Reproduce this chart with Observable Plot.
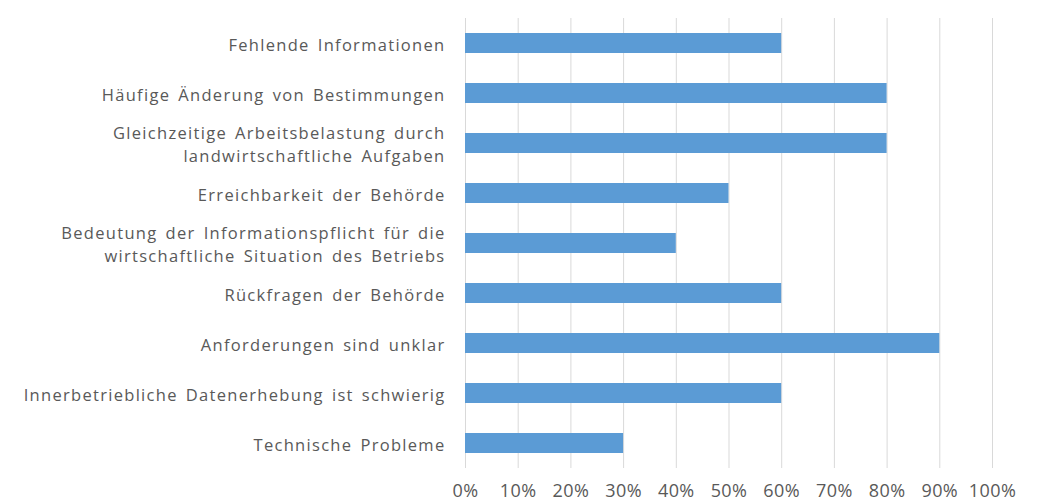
<!DOCTYPE html>
<html>
<head>
<meta charset="utf-8">
<script src="https://cdn.jsdelivr.net/npm/d3@7"></script>
<script src="https://cdn.jsdelivr.net/npm/@observablehq/plot@0.6"></script>
<style>
  html, body { margin: 0; padding: 0; background: #fff; }
  g[aria-label="y-axis tick label"] { letter-spacing: 1.3px; word-spacing: 2.5px; }
  g[aria-label="x-axis tick label"] { letter-spacing: 0.4px; }
</style>
</head>
<body>
<div id="chart"></div>
<script>
const categories = [
  "Fehlende Informationen",
  "Häufige Änderung von Bestimmungen",
  "Gleichzeitige Arbeitsbelastung durch\nlandwirtschaftliche Aufgaben",
  "Erreichbarkeit der Behörde",
  "Bedeutung der Informationspflicht für die\nwirtschaftliche Situation des Betriebs",
  "Rückfragen der Behörde",
  "Anforderungen sind unklar",
  "Innerbetriebliche Datenerhebung ist schwierig",
  "Technische Probleme"
];
const values = [60, 80, 80, 50, 40, 60, 90, 60, 30];
const xTicks = [0, 10, 20, 30, 40, 50, 60, 70, 80, 90, 100];

const data = categories.map((c, i) => ({category: c, value: values[i]}));

const chart = Plot.plot({
  width: 1039,
  height: 502,
  marginLeft: 465,
  marginRight: 47,
  marginTop: 18,
  marginBottom: 34,
  style: {fontFamily: "'Open Sans', sans-serif", color: "#595959", background: "#fff"},
  x: {domain: [0, 100]},
  y: {domain: categories, paddingInner: 0.6, paddingOuter: 0.3},
  marks: [
    Plot.gridX(xTicks, {stroke: "#d9d9d9", strokeOpacity: 1, strokeWidth: 1}),
    Plot.barX(data, {x: "value", y: "category", fill: "#5b9bd5"}),
    Plot.axisX(xTicks, {tickSize: 0, tickPadding: 16, tickFormat: d => d + "%", fontSize: 18, fill: "#595959", label: null}),
    Plot.axisY({tickSize: 0, tickPadding: 20, fontSize: 16.5, lineHeight: 1.4, fill: "#595959", label: null})
  ]
});
document.getElementById("chart").appendChild(chart);
</script>
</body>
</html>
